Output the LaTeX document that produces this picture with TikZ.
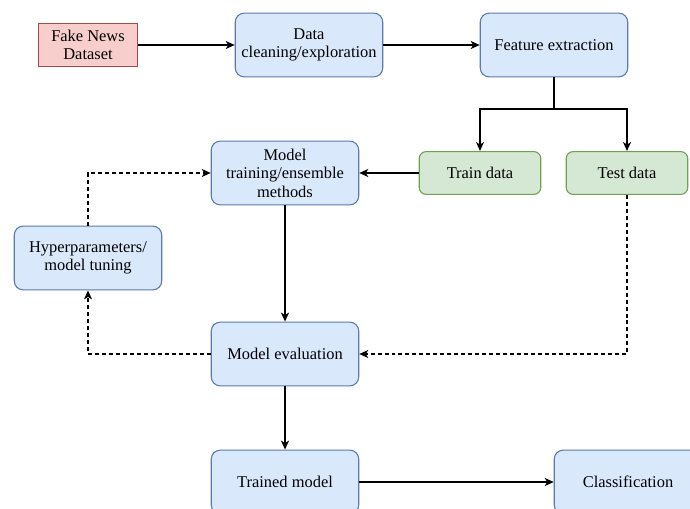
\documentclass[tikz,border=0pt]{standalone}
\usepackage{fontspec}
\setmainfont{Liberation Serif}
\usetikzlibrary{arrows.meta}
\definecolor{bfill}{HTML}{DAE8FC}
\definecolor{bline}{HTML}{5A7CAE}
\definecolor{gfill}{HTML}{D5E8D4}
\definecolor{gline}{HTML}{6FA053}
\definecolor{rfill}{HTML}{F8CECC}
\definecolor{rline}{HTML}{A94A46}
\tikzset{
  box/.style={draw, line width=1.1pt, align=center, inner sep=0pt,
    font=\fontsize{16.5}{18.5}\selectfont, text=black},
  bluebox/.style={box, fill=bfill, draw=bline, rounded corners=9pt,
    minimum width=148pt, minimum height=64pt},
  greenbox/.style={box, fill=gfill, draw=gline, rounded corners=7pt,
    minimum width=122pt, minimum height=43pt},
  redbox/.style={box, fill=rfill, draw=rline,
    minimum width=100pt, minimum height=43pt},
  arr/.style={line width=1.6pt, -{Stealth[length=9pt,width=8pt,inset=2.5pt]}},
  ln/.style={line width=1.6pt},
  darr/.style={arr, line width=1.4pt, dash pattern=on 4pt off 3pt},
}
\begin{document}
\begin{tikzpicture}[x=1bp,y=-1bp]
\clip (0,0) rectangle (690,509);
\fill[white] (0,0) rectangle (690,509);
\node[redbox] (fake) at (88,45) {Fake News\\Dataset};
\node[bluebox] (clean) at (309,45) {Data\\cleaning/exploration};
\node[bluebox] (feat) at (554,45) {Feature extraction};
\node[greenbox] (train) at (480,173) {Train data};
\node[greenbox] (test) at (627,173) {Test data};
\node[bluebox] (mtrain) at (285,173) {Model\\training/ensemble\\methods};
\node[bluebox] (hyper) at (88,258) {Hyperparameters/\\model tuning};
\node[bluebox] (meval) at (285,354) {Model evaluation};
\node[bluebox] (trained) at (285,482) {Trained model};
\node[bluebox] (classif) at (628,482) {Classification};
\coordinate (sp) at (554,109);
\draw[arr] (fake) -- (clean);
\draw[arr] (clean) -- (feat);
\draw[ln] (feat.south) -- (sp);
\draw[arr] (sp) -| (train.north);
\draw[arr] (sp) -| (test.north);
\draw[arr] (train) -- (mtrain);
\draw[arr] (mtrain) -- (meval);
\draw[darr] (test.south) |- (meval.east);
\draw[darr] (meval.west) -| (hyper.south);
\draw[darr] (hyper.north) |- (mtrain.west);
\draw[arr] (meval) -- (trained);
\draw[arr] (trained) -- (classif);
\end{tikzpicture}
\end{document}
